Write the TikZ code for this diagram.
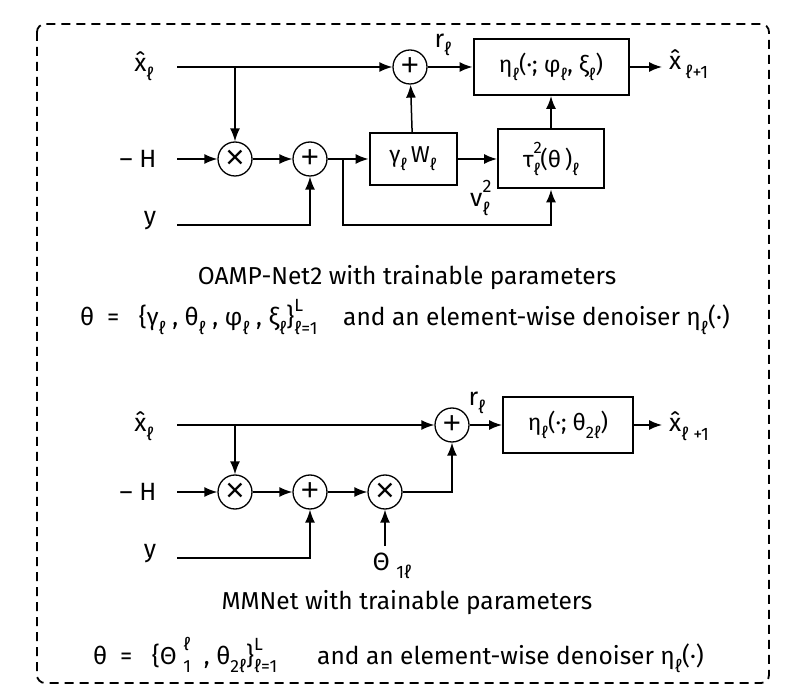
\documentclass[tikz,border=0pt]{standalone}
\usepackage{fontspec}
\setmainfont{Fira Sans}
\newfontfamily\opfont{Liberation Sans}
\usetikzlibrary{arrows.meta,positioning,calc}
\newcommand{\lsub}[1]{\raisebox{-0.34em}{\scalebox{0.72}{#1}}}
\newcommand{\lsup}[1]{\raisebox{0.58em}{\scalebox{0.72}{#1}}}
\newcommand{\lboth}[2]{\makebox[0pt][l]{\lsup{#2}}\lsub{#1}}
\newcommand{\xhat}{\^{x}}
\tikzset{
  opnode/.style={circle,draw,line width=1.3pt,minimum size=34pt,inner sep=0pt,
    font=\opfont\fontsize{31}{31}\selectfont},
  opmul/.style={opnode,font=\opfont\fontsize{33}{33}\selectfont},
  blk/.style={draw,line width=2pt,inner sep=0pt,font=\fontsize{23}{27}\selectfont},
  sig/.style={-{Latex[length=13pt,width=10pt]},line width=1.5pt},
  lbl/.style={inner sep=0pt,font=\fontsize{25}{29}\selectfont},
  captxt/.style={inner sep=0pt,font=\fontsize{24.5}{29}\selectfont},
}
\begin{document}
\begin{tikzpicture}[x=1pt,y=-1pt]
  \useasboundingbox (0,0) rectangle (809,700);
  \draw[line width=1.8pt,dash pattern=on 9pt off 6pt,rounded corners=8pt] (37,24) rectangle (769,683);
  % OAMP-Net2
  \node[lbl] (xl1) at (144,66){\xhat\lsub{ℓ}}; \node[lbl] (hl1) at (138,159){– H};
  \node[lbl] (yl1) at (150,221){y};
  \coordinate (xa1) at (177,67); \coordinate (xb1) at (235,67);
  \coordinate (ha1) at (177,159); \coordinate (ya1) at (177,225);
  \node[opmul] (tm1) at (235,159){×}; \node[opnode] (pl1) at (310,159){+};
  \node[opnode] (pt1) at (410,67){+};
  \node[blk,minimum width=87pt,minimum height=52pt] (gw) at (413,159){γ\lsub{ℓ}\,W\lsub{ℓ}};
  \node[blk,minimum width=106pt,minimum height=59pt] (tau) at (551,159){τ\lboth{ℓ}{2}(θ\,)\lsub{ℓ}};
  \node[blk,minimum width=155pt,minimum height=56pt] (eta1) at (551,67){η\lsub{ℓ}(·; φ\lsub{ℓ}, ξ\lsub{ℓ})};
  \coordinate (o1) at (662,67); \node[lbl,anchor=west] (xo1) at (669,64){\xhat\,\lsub{ℓ+1}};
  \coordinate (br1) at (343,159); \coordinate (bt1) at (551,225);
  \node[lbl] (r1) at (443,45){r\lsub{ℓ}}; \node[lbl] (v1) at (480,198){v\lboth{ℓ}{2}};
  \draw[sig] (xa1)--(pt1); \draw[sig] (xb1)--(tm1); \draw[sig] (ha1)--(tm1);
  \draw[sig] (tm1)--(pl1); \draw[sig] (ya1)-|(pl1); \draw[sig] (pl1)--(gw);
  \draw[sig] (br1)|-(bt1)--(tau); \draw[sig] (gw)--(tau); \draw[sig] (gw)--(pt1);
  \draw[sig] (tau)--(eta1); \draw[sig] (pt1)--(eta1); \draw[sig] (eta1)--(o1);
  \node[captxt] (t1) at (407,278){OAMP-Net2 with trainable parameters};
  \node[captxt,anchor=west] (p1) at (80,317){\makebox[263pt][l]{θ\ \ =\ \ \ \{γ\lsub{ℓ}\ , θ\lsub{ℓ}\ , φ\lsub{ℓ}\ , ξ\lsub{ℓ}\}\lboth{ℓ=1}{L}}and an element-wise denoiser η\lsub{ℓ}(·)};
  % MMNet
  \node[lbl] (xl2) at (144,426){\xhat\lsub{ℓ}}; \node[lbl] (hl2) at (138,492){– H};
  \node[lbl] (yl2) at (150,554){y};
  \coordinate (xa2) at (177,425); \coordinate (xb2) at (235,425);
  \coordinate (ha2) at (177,492); \coordinate (ya2) at (177,558);
  \node[opmul] (tm2) at (235,492){×}; \node[opnode] (pl2) at (310,492){+};
  \node[opmul] (tm3) at (385,492){×}; \node[opnode] (pt2) at (452,425){+};
  \node[blk,minimum width=130pt,minimum height=56pt] (eta2) at (568,425){η\lsub{ℓ}(·; θ\lsub{2ℓ})};
  \coordinate (o2) at (662,425); \node[lbl,anchor=west] (xo2) at (669,426){\xhat\lsub{ℓ +1}};
  \coordinate (th2) at (385,546); \node[lbl] (tl2) at (392,566){Θ\ \lsub{1ℓ}};
  \node[lbl] (r2) at (477,403){r\lsub{ℓ}};
  \draw[sig] (xa2)--(pt2); \draw[sig] (xb2)--(tm2); \draw[sig] (ha2)--(tm2);
  \draw[sig] (tm2)--(pl2); \draw[sig] (ya2)-|(pl2); \draw[sig] (pl2)--(tm3);
  \draw[sig] (th2)--(tm3); \draw[sig] (tm3)-|(pt2); \draw[sig] (pt2)--(eta2);
  \draw[sig] (eta2)--(o2);
  \node[captxt] (t2) at (407,603){MMNet with trainable parameters};
  \node[captxt,anchor=west] (p2) at (93,655){\makebox[224pt][l]{θ\ \ =\ \ \ \{Θ\ \lboth{1}{ℓ}\ \ , θ\lsub{2ℓ}\}\lboth{ℓ=1}{L}}and an element-wise denoiser η\lsub{ℓ}(·)};
\end{tikzpicture}
\end{document}
